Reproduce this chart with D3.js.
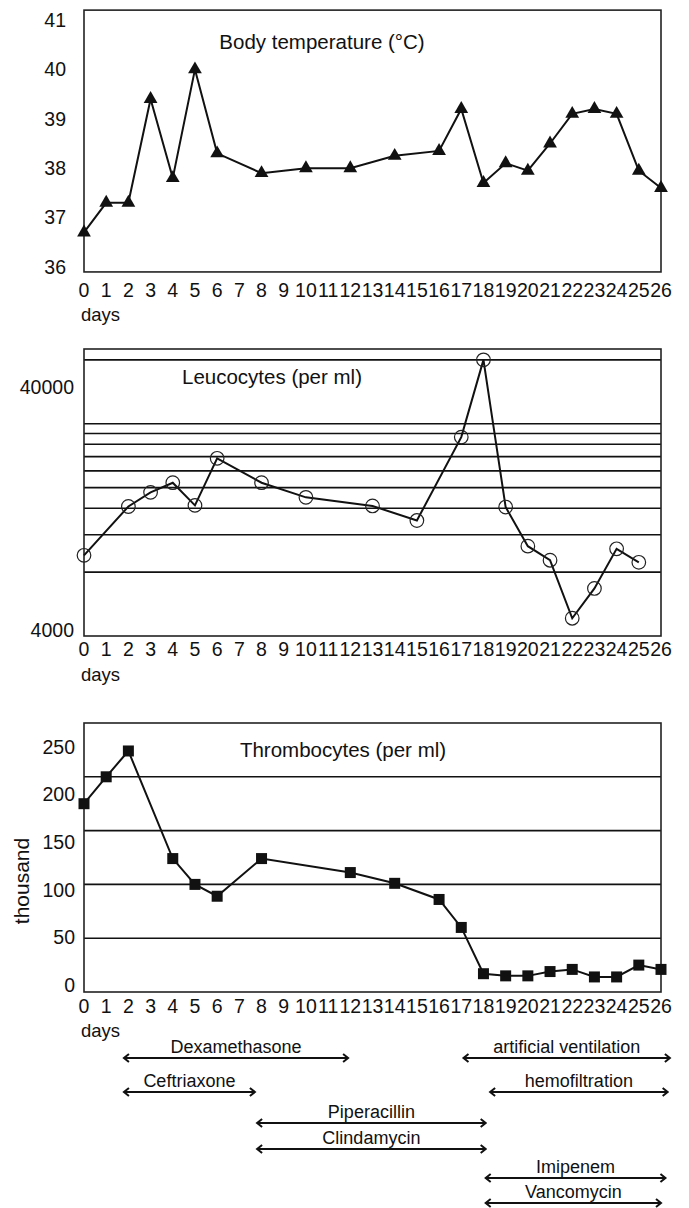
<!DOCTYPE html>
<html>
<head>
<meta charset="utf-8">
<script src="https://d3js.org/d3.v7.min.js"></script>
<style>
  body { margin: 0; background: #fff; }
  text { font-family: "Liberation Sans", Arial, Helvetica, sans-serif; fill: #111; }
</style>
</head>
<body>
<div id="vis"></div>
<script>
// ---- data ----
var dayTicks = d3.range(0, 27);

var tempDays   = [0, 1, 2, 3, 4, 5, 6, 8, 10, 12, 14, 16, 17, 18, 19, 20, 21, 22, 23, 24, 25, 26];
var tempValues = [36.7, 37.3, 37.3, 39.4, 37.8, 40.0, 38.3, 37.9, 38.0, 38.0, 38.25, 38.35, 39.2, 37.7, 38.1, 37.95, 38.5, 39.1, 39.2, 39.1, 37.95, 37.6];
var tempTicks  = [36, 37, 38, 39, 40, 41];

var leucoDays   = [0, 2, 3, 4, 5, 6, 8, 10, 13, 15, 17, 18, 19, 20, 21, 22, 23, 24, 25];
var leucoValues = [9600, 16300, 19000, 21100, 16500, 27500, 21100, 18000, 16400, 14000, 34600, 80000, 16200, 10600, 9100, 4850, 6700, 10300, 8900];
var leucoTicks  = [4000, 40000];
var leucoGrid   = [8000, 12000, 16000, 20000, 24000, 28000, 32000, 36000, 40000, 80000];

var thrDays   = [0, 1, 2, 4, 5, 6, 8, 12, 14, 16, 17, 18, 19, 20, 21, 22, 23, 24, 25, 26];
var thrValues = [175, 200, 224, 124, 100, 89, 124, 111, 101, 86, 60, 17, 15, 15, 19, 21, 14, 14, 25, 21];
var thrTicks  = [0, 50, 100, 150, 200, 250];
var thrGrid   = [50, 100, 150, 200];

var treatNames = ["Dexamethasone", "Ceftriaxone", "Piperacillin", "Clindamycin", "artificial ventilation", "hemofiltration", "Imipenem", "Vancomycin"];
var treatStart = [1.8, 1.8, 7.8, 7.8, 17.1, 18.3, 18.1, 18.1];
var treatEnd   = [11.9, 7.7, 18.1, 18.1, 26.4, 26.3, 26.2, 26.0];
var treatLane  = [0, 1, 2, 3, 0, 1, 4, 5];

// ---- layout ----
var width = 689, height = 1208;

var svg = d3.select("#vis")
            .append("svg")
            .attr("width", width)
            .attr("height", height);

svg.append("rect").attr("width", width).attr("height", height).attr("fill", "#fff");

var x = d3.scaleLinear().domain([0, 26]).range([84, 661]);

function dayAxis(yTicks, yDays) {
  svg.append("g")
     .selectAll("text")
     .data(dayTicks)
     .enter()
     .append("text")
     .attr("x", function(d) { return x(d); })
     .attr("y", yTicks)
     .attr("dy", "0.35em")
     .attr("text-anchor", "middle")
     .style("font-size", "19.5px")
     .text(function(d) { return d; });

  svg.append("text")
     .attr("x", 81)
     .attr("y", yDays)
     .attr("dy", "0.35em")
     .style("font-size", "18.5px")
     .text("days");
}

function box(y0, y1) {
  svg.append("rect")
     .attr("x", x(0))
     .attr("y", y0)
     .attr("width", x(26) - x(0))
     .attr("height", y1 - y0)
     .attr("fill", "none")
     .attr("stroke", "#222")
     .attr("stroke-width", 1.6);
}

function title(txt, cx, cy) {
  svg.append("text")
     .attr("x", cx)
     .attr("y", cy)
     .attr("dy", "0.35em")
     .attr("text-anchor", "middle")
     .style("font-size", "20.5px")
     .text(txt);
}

////////// body temperature //////////

var yT = d3.scaleLinear().domain([36, 41]).range([267, 20]);

box(yT(41.2), yT(35.9));
title("Body temperature (°C)", 322, 42);

svg.append("g")
   .selectAll("text")
   .data(tempTicks)
   .enter()
   .append("text")
   .attr("x", 66)
   .attr("y", function(d) { return yT(d); })
   .attr("dy", "0.35em")
   .attr("text-anchor", "end")
   .style("font-size", "19.5px")
   .text(function(d) { return d; });

var tempPts = tempDays.map(function(d, i) { return [d, tempValues[i]]; });

svg.append("path")
   .datum(tempPts)
   .attr("fill", "none")
   .attr("stroke", "#111")
   .attr("stroke-width", 2)
   .attr("d", d3.line().x(function(d) { return x(d[0]); }).y(function(d) { return yT(d[1]); }));

svg.append("g")
   .selectAll("path")
   .data(tempPts)
   .enter()
   .append("path")
   .attr("transform", function(d) { return "translate(" + x(d[0]) + "," + yT(d[1]) + ")"; })
   .attr("d", d3.symbol().type(d3.symbolTriangle).size(82))
   .attr("fill", "#111");

dayAxis(290, 315);

////////// leucocytes //////////

var yL = d3.scaleLog().domain([4000, 90000]).range([636, 349]);
// printed labels sit a little off the grid in the original
var yLlab = d3.scaleLog().domain([4000, 40000]).range([630, 387]);

svg.append("g")
   .selectAll("line")
   .data(leucoGrid)
   .enter()
   .append("line")
   .attr("x1", x(0))
   .attr("x2", x(26))
   .attr("y1", function(d) { return yL(d); })
   .attr("y2", function(d) { return yL(d); })
   .attr("stroke", "#111")
   .attr("stroke-width", 1.6);

box(yL(90000), yL(4000));
title("Leucocytes (per ml)", 272, 377);

svg.append("g")
   .selectAll("text")
   .data(leucoTicks)
   .enter()
   .append("text")
   .attr("x", 74)
   .attr("y", function(d) { return yLlab(d); })
   .attr("dy", "0.35em")
   .attr("text-anchor", "end")
   .style("font-size", "19.5px")
   .text(function(d) { return d; });

var leucoPts = leucoDays.map(function(d, i) { return [d, leucoValues[i]]; });

svg.append("path")
   .datum(leucoPts)
   .attr("fill", "none")
   .attr("stroke", "#111")
   .attr("stroke-width", 2)
   .attr("d", d3.line().x(function(d) { return x(d[0]); }).y(function(d) { return yL(d[1]); }));

svg.append("g")
   .selectAll("circle")
   .data(leucoPts)
   .enter()
   .append("circle")
   .attr("cx", function(d) { return x(d[0]); })
   .attr("cy", function(d) { return yL(d[1]); })
   .attr("r", 6.8)
   .attr("fill", "none")
   .attr("stroke", "#222")
   .attr("stroke-width", 1.2);

dayAxis(649, 675);

////////// thrombocytes //////////

var yP = d3.scaleLinear().domain([0, 250]).range([992, 723]);
var yPlab = d3.scaleLinear().domain([0, 250]).range([985, 747]);

svg.append("g")
   .selectAll("line")
   .data(thrGrid)
   .enter()
   .append("line")
   .attr("x1", x(0))
   .attr("x2", x(26))
   .attr("y1", function(d) { return yP(d); })
   .attr("y2", function(d) { return yP(d); })
   .attr("stroke", "#111")
   .attr("stroke-width", 1.6);

box(yP(250), yP(0));
title("Thrombocytes (per ml)", 343, 750);

svg.append("g")
   .selectAll("text")
   .data(thrTicks)
   .enter()
   .append("text")
   .attr("x", 75)
   .attr("y", function(d) { return yPlab(d); })
   .attr("dy", "0.35em")
   .attr("text-anchor", "end")
   .style("font-size", "19.5px")
   .text(function(d) { return d; });

svg.append("text")
   .attr("transform", "translate(22,881) rotate(-90)")
   .attr("dy", "0.35em")
   .attr("text-anchor", "middle")
   .style("font-size", "21px")
   .text("thousand");

var thrPts = thrDays.map(function(d, i) { return [d, thrValues[i]]; });

svg.append("path")
   .datum(thrPts)
   .attr("fill", "none")
   .attr("stroke", "#111")
   .attr("stroke-width", 2)
   .attr("d", d3.line().x(function(d) { return x(d[0]); }).y(function(d) { return yP(d[1]); }));

svg.append("g")
   .selectAll("path")
   .data(thrPts)
   .enter()
   .append("path")
   .attr("transform", function(d) { return "translate(" + x(d[0]) + "," + yP(d[1]) + ")"; })
   .attr("d", d3.symbol().type(d3.symbolSquare).size(121))
   .attr("fill", "#111");

dayAxis(1006, 1031);

////////// treatment arrows //////////

// lanes are not evenly spaced in the original
var lane = d3.scaleOrdinal().domain(d3.range(6)).range([1058, 1092, 1123, 1149, 1178, 1203]);

var treat = svg.append("g")
               .selectAll("g")
               .data(treatNames)
               .enter()
               .append("g");

treat.append("line")
     .attr("x1", function(d, i) { return x(treatStart[i]); })
     .attr("x2", function(d, i) { return x(treatEnd[i]); })
     .attr("y1", function(d, i) { return lane(treatLane[i]); })
     .attr("y2", function(d, i) { return lane(treatLane[i]); })
     .attr("stroke", "#111")
     .attr("stroke-width", 2.2);

// open arrow heads at both ends
treat.append("path")
     .attr("fill", "none")
     .attr("stroke", "#111")
     .attr("stroke-width", 2)
     .attr("d", function(d, i) {
       var a = x(treatStart[i]), b = x(treatEnd[i]), y = lane(treatLane[i]);
       return "M" + (a + 5) + "," + (y - 4) + "L" + a + "," + y + "L" + (a + 5) + "," + (y + 4) +
              "M" + (b - 5) + "," + (y - 4) + "L" + b + "," + y + "L" + (b - 5) + "," + (y + 4);
     });

treat.append("text")
     .attr("x", function(d, i) { return (x(treatStart[i]) + x(treatEnd[i])) / 2; })
     .attr("y", function(d, i) { return lane(treatLane[i]) - 5; })
     .attr("text-anchor", "middle")
     .style("font-size", "18px")
     .text(function(d) { return d; });
</script>
</body>
</html>
